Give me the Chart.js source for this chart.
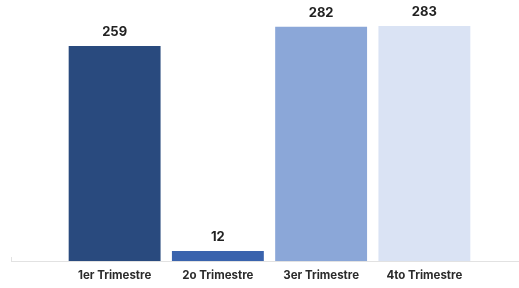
<!DOCTYPE html>
<html lang="es">
<head>
    <meta charset="UTF-8">
    <title>Trimestres</title>
    <script src="https://cdn.jsdelivr.net/npm/chart.js"></script>
    <style>
        html, body { margin: 0; padding: 0; background: #fff; }
        #wrap { width: 519px; height: 288px; }
    </style>
</head>
<body>
    <div id="wrap"><canvas id="quarterChart"></canvas></div>

    <script>
        const categories = ['1er Trimestre', '2o Trimestre', '3er Trimestre', '4to Trimestre'];
        const values = [259, 12, 282, 283];
        const barColors = ['#294a7e', '#3a63ad', '#8ba7d8', '#dae3f4'];

        // value labels over the bars + long baseline
        const extras = {
            id: 'extras',
            afterDatasetsDraw(chart) {
                const ctx = chart.ctx;
                const meta = chart.getDatasetMeta(0);
                ctx.save();
                ctx.font = 'bold 13px Inter';
                ctx.fillStyle = '#222';
                ctx.textAlign = 'center';
                ctx.textBaseline = 'bottom';
                meta.data.forEach((bar, i) => {
                    ctx.fillText(values[i], bar.x, bar.y - 7);
                });
                const yBase = chart.scales.y.getPixelForValue(0);
                ctx.strokeStyle = '#e2e2e2';
                ctx.lineWidth = 1;
                ctx.beginPath();
                ctx.moveTo(11, yBase + 0.5);
                ctx.lineTo(519, yBase + 0.5);
                ctx.moveTo(11.5, yBase - 4);
                ctx.lineTo(11.5, yBase + 1);
                ctx.stroke();
                ctx.restore();
            }
        };

        new Chart(document.getElementById('quarterChart'), {
            type: 'bar',
            data: {
                labels: categories,
                datasets: [{
                    data: values,
                    backgroundColor: barColors,
                    borderWidth: 0,
                    categoryPercentage: 1,
                    barPercentage: 0.89
                }]
            },
            options: {
                responsive: true,
                maintainAspectRatio: false,
                animation: false,
                layout: { padding: { top: 26, left: 63, right: 43, bottom: 0 } },
                plugins: { legend: { display: false }, tooltip: { enabled: false } },
                scales: {
                    x: {
                        grid: { display: false, drawTicks: false },
                        border: { display: false },
                        afterFit(scale) { scale.height = 27; },
                        ticks: {
                            color: '#2b2b2b',
                            font: { family: 'Inter', size: 11.5, weight: 'bold' },
                            padding: 8
                        }
                    },
                    y: {
                        display: false,
                        min: 0,
                        max: 283
                    }
                }
            },
            plugins: [extras]
        });
    </script>
</body>
</html>
